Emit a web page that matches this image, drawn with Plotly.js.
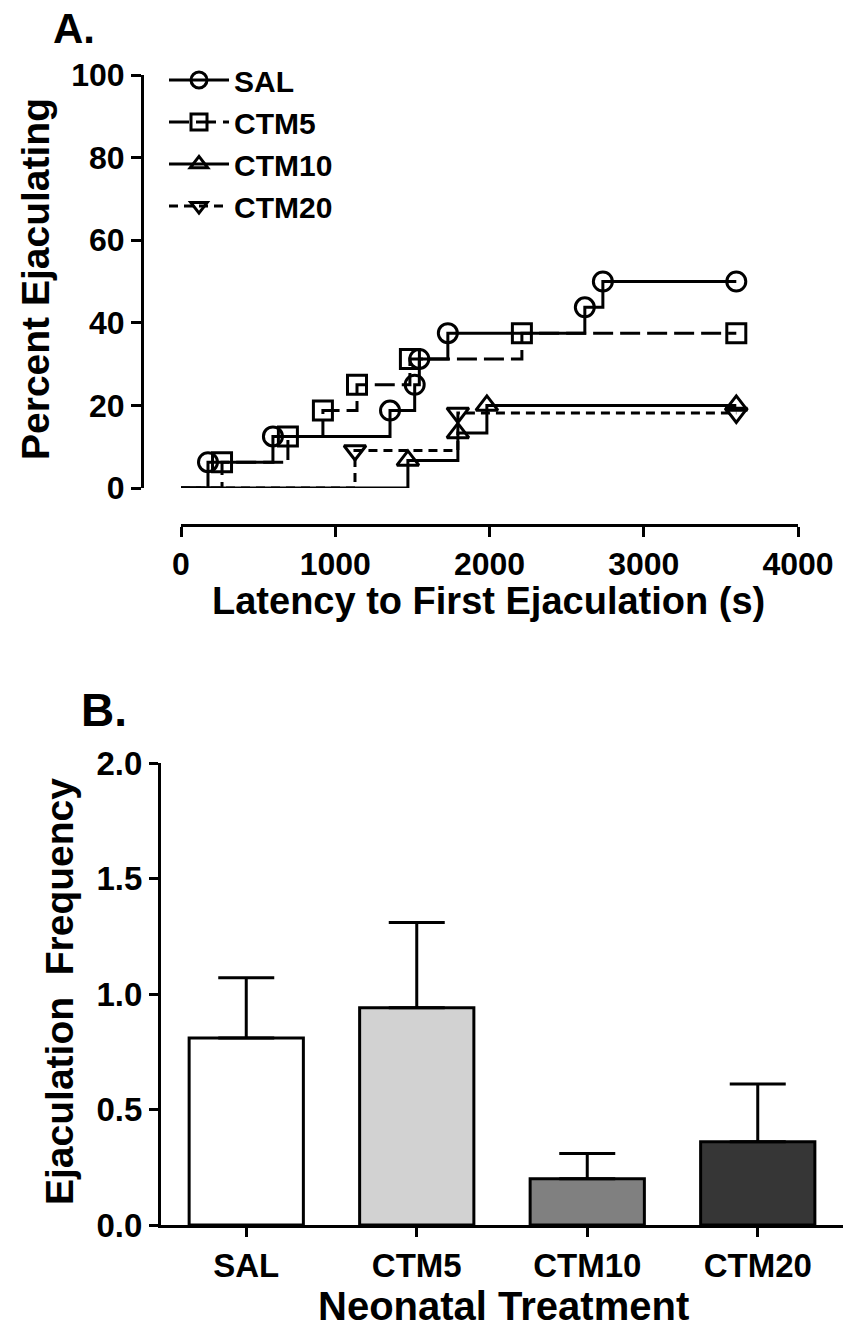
<!DOCTYPE html>
<html>
<head>
<meta charset="utf-8">
<script src="https://cdn.plot.ly/plotly-3.0.1.min.js"></script>
<style>html,body{margin:0;padding:0;background:#fff;}#chart{width:843px;height:1328px;}</style>
</head>
<body>
<div id="chart"></div>
<script>
// ---- Panel A: cumulative percent ejaculating (latency, s) ----
const salTimes   = [175, 596, 1355, 1515, 1545, 1730, 2618, 2735, 3600];
const salPct     = [6.25, 12.5, 18.75, 25, 31.25, 37.5, 43.75, 50, 50];
const ctm5Times  = [266, 693, 920, 1141, 1484, 2210, 3600];
const ctm5Pct    = [6.25, 12.5, 18.75, 25, 31.25, 37.5, 37.5];
const ctm10Times = [1471, 1795, 1983, 3600];
const ctm10Pct   = [6.67, 13.33, 20, 20];
const ctm20Times = [1128, 1795, 3600];
const ctm20Pct   = [9.09, 18.18, 18.18];
const xTicksA = [0, 1000, 2000, 3000, 4000];
const yTicksA = [0, 20, 40, 60, 80, 100];

// ---- Panel B: ejaculation frequency ----
const groups = ['SAL', 'CTM5', 'CTM10', 'CTM20'];
const freqMean = [0.81, 0.94, 0.20, 0.36];
const freqSem  = [0.26, 0.37, 0.11, 0.25];
const barColors = ['#ffffff', '#d2d2d2', '#808080', '#363636'];

const W = 843, H = 1328;
const px = v => v / W;
const py = v => 1 - v / H;
const FONT = 'Liberation Sans, Arial, Helvetica, sans-serif';

function survTrace(name, times, pct, symbol, dash) {
  const xs = [0].concat(times);
  const ys = [0].concat(pct);
  const sizes = xs.map((_, i) => i === 0 ? 0 : 19);
  return {
    type: 'scatter', mode: 'lines+markers', name: name,
    x: xs, y: ys, xaxis: 'x', yaxis: 'y',
    line: {shape: 'hv', color: '#000', width: 3, dash: dash},
    marker: {symbol: symbol, size: sizes, opacity: 1, color: '#000', line: {color: '#000', width: 3}},
    cliponaxis: false, showlegend: true, hoverinfo: 'skip'
  };
}

const traces = [
  survTrace('SAL', salTimes, salPct, 'circle-open', 'solid'),
  survTrace('CTM5', ctm5Times, ctm5Pct, 'square-open', '20px,7px'),
  survTrace('CTM10', ctm10Times, ctm10Pct, 'triangle-up-open', 'solid'),
  survTrace('CTM20', ctm20Times, ctm20Pct, 'triangle-down-open', '9px,6px'),
  {
    type: 'bar', x: groups, y: freqMean, xaxis: 'x2', yaxis: 'y2',
    width: 0.67, showlegend: false, hoverinfo: 'skip',
    marker: {color: barColors, line: {color: '#000', width: 3}},
    error_y: {type: 'data', symmetric: false, array: freqSem,
              arrayminus: freqSem.map(() => 0), color: '#000', thickness: 3, width: 28}
  }
];

const axisStyle = {
  showline: true, linecolor: '#000', linewidth: 3,
  ticks: 'outside', tickcolor: '#000', tickwidth: 3,
  showgrid: false, zeroline: false, fixedrange: true
};

const layout = {
  width: W, height: H,
  margin: {l: 0, r: 0, t: 0, b: 0},
  paper_bgcolor: '#fff', plot_bgcolor: 'rgba(0,0,0,0)',
  font: {family: FONT, color: '#000', weight: 'bold'},
  xaxis: Object.assign({}, axisStyle, {
    domain: [px(181), px(798)], range: [0, 4000], anchor: 'free', position: py(525),
    tickvals: xTicksA, ticklen: 10, tickfont: {size: 32, family: FONT, weight: 'bold'}
  }),
  yaxis: Object.assign({}, axisStyle, {
    domain: [py(488), py(75)], range: [0, 100], anchor: 'free', position: px(142),
    tickvals: yTicksA, ticklen: 10, tickfont: {size: 32, family: FONT, weight: 'bold'}
  }),
  xaxis2: Object.assign({}, axisStyle, {
    domain: [px(161), 1], range: [-0.5, 3.5], anchor: 'y2', type: 'category',
    ticklen: 9, tickfont: {size: 33, family: FONT, weight: 'bold'}
  }),
  yaxis2: Object.assign({}, axisStyle, {
    domain: [py(1225), py(763)], range: [0, 2], anchor: 'x2',
    tickvals: [0, 0.5, 1, 1.5, 2], tickformat: '.1f', ticklen: 9,
    tickfont: {size: 33, family: FONT, weight: 'bold'}
  }),
  showlegend: true,
  legend: {
    x: px(164), y: py(54), xanchor: 'left', yanchor: 'top',
    bgcolor: 'rgba(0,0,0,0)', borderwidth: 0, tracegroupgap: 0, itemwidth: 60,
    font: {size: 30, family: FONT, weight: 'bold', color: '#000'}
  },
  annotations: [
    {text: 'A.', xref: 'paper', yref: 'paper', x: px(51), y: py(28), xanchor: 'left', yanchor: 'middle',
     showarrow: false, font: {size: 42, family: FONT, weight: 'bold'}},
    {text: 'B.', xref: 'paper', yref: 'paper', x: px(79), y: py(710), xanchor: 'left', yanchor: 'middle',
     showarrow: false, font: {size: 46, family: FONT, weight: 'bold'}},
    {text: 'Percent Ejaculating', xref: 'paper', yref: 'paper', x: px(35), y: py(279),
     xanchor: 'center', yanchor: 'middle', textangle: -90, showarrow: false,
     font: {size: 39, family: FONT, weight: 'bold'}},
    {text: 'Latency to First Ejaculation (s)', xref: 'paper', yref: 'paper', x: px(488), y: py(601),
     xanchor: 'center', yanchor: 'middle', showarrow: false,
     font: {size: 38, family: FONT, weight: 'bold'}},
    {text: 'Ejaculation\u00a0 Frequency', xref: 'paper', yref: 'paper', x: px(59), y: py(992),
     xanchor: 'center', yanchor: 'middle', textangle: -90, showarrow: false,
     font: {size: 39, family: FONT, weight: 'bold'}},
    {text: 'Neonatal Treatment', xref: 'paper', yref: 'paper', x: px(503), y: py(1306),
     xanchor: 'center', yanchor: 'middle', showarrow: false,
     font: {size: 40, family: FONT, weight: 'bold'}}
  ]
};

Plotly.newPlot('chart', traces, layout, {displayModeBar: false, staticPlot: true});
</script>
</body>
</html>
